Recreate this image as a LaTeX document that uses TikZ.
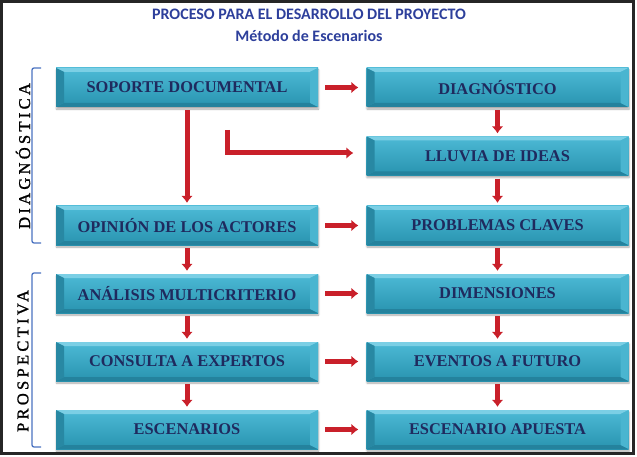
\documentclass[tikz,border=0pt]{standalone}
\usepackage{fontspec}
\setmainfont{Liberation Serif}
\newfontfamily\titulofont{Carlito}
\newfontfamily\fasefont[LetterSpace=20,FakeBold=1.2]{Liberation Serif}
\usetikzlibrary{arrows.meta,shadows.blur}
\definecolor{tituloazul}{HTML}{2D3F9B}
\definecolor{textoazul}{HTML}{1F2A5E}
\definecolor{caraclara}{HTML}{4DBAD6}
\definecolor{caraoscura}{HTML}{2893AF}
\definecolor{biselarriba}{HTML}{7BCFE5}
\definecolor{biselabajo}{HTML}{24829D}
\definecolor{biselizq}{HTML}{2888A3}
\definecolor{biselder}{HTML}{4AB5D0}
\definecolor{flecharoja}{HTML}{C9202A}
\definecolor{llave}{HTML}{4A72C0}

\begin{document}
\begin{tikzpicture}[x=1pt,y=-1pt,>={Latex[width=12pt,length=7pt]},
    caja/.style={minimum width=262pt,minimum height=39pt,inner sep=0pt,
      top color=caraclara,bottom color=caraoscura,text=textoazul,
      font=\bfseries\fontsize{16.4}{18}\selectfont,
      blur shadow={shadow xshift=0.5pt,shadow yshift=-2pt,shadow blur steps=4,shadow opacity=35},
      path picture={
        \coordinate (pnw) at (path picture bounding box.north west);
        \coordinate (pne) at (path picture bounding box.north east);
        \coordinate (psw) at (path picture bounding box.south west);
        \coordinate (pse) at (path picture bounding box.south east);
        \fill[biselarriba] (pnw) -- (pne) -- ([xshift=-8pt,yshift=-4pt]pne)
          -- ([xshift=8pt,yshift=-4pt]pnw) -- cycle;
        \fill[biselabajo] (psw) -- (pse) -- ([xshift=-8pt,yshift=4pt]pse)
          -- ([xshift=8pt,yshift=4pt]psw) -- cycle;
        \fill[biselizq] (pnw) -- ([xshift=8pt,yshift=-4pt]pnw)
          -- ([xshift=8pt,yshift=4pt]psw) -- (psw) -- cycle;
        \fill[biselder] (pne) -- ([xshift=-8pt,yshift=-4pt]pne)
          -- ([xshift=-8pt,yshift=4pt]pse) -- (pse) -- cycle;
      }},
    flecha/.style={->,line width=5pt,flecharoja,shorten <=3pt,shorten >=3pt},
    fase/.style={rotate=90,font=\fasefont\fontsize{16.5}{18}\selectfont},
    titulo/.style={font=\titulofont\bfseries\fontsize{16}{18}\selectfont,text=tituloazul}]
    \useasboundingbox (0,0) rectangle (637,457);
    \draw[line width=3pt,black!85] (1.5,1.5) rectangle (633.5,453);
    % titulo
    \node[titulo] (titulo1) at (309,14) {PROCESO PARA EL DESARROLLO DEL PROYECTO};
    \node[titulo] (titulo2) at (309,36) {Método de Escenarios};
    % fases
    \draw[llave,line width=1.3pt,rounded corners=2pt] (41,68) -- (32,68) -- (32,243) -- (41,243);
    \draw[llave,line width=1.3pt,rounded corners=2pt] (41,273) -- (32,273) -- (32,447) -- (41,447);
    \node[fase] (diagnostica) at (23,156) {DIAGNÓSTICA};
    \node[fase] (prospectiva) at (23,361) {PROSPECTIVA};
    % columna izquierda
    \node[caja] (soporte) at (187,87.5) {SOPORTE DOCUMENTAL};
    \node[caja] (opinion) at (187,225.5) {OPINIÓN DE LOS ACTORES};
    \node[caja] (analisis) at (187,293.5) {ANÁLISIS MULTICRITERIO};
    \node[caja] (consulta) at (187,361.5) {CONSULTA A EXPERTOS};
    \node[caja] (escenarios) at (187,429.5) {ESCENARIOS};
    % columna derecha
    \node[caja] (diagnostico) at (497.5,87.5) {DIAGNÓSTICO};
    \node[caja] (lluvia) at (497.5,156) {LLUVIA DE IDEAS};
    \node[caja] (problemas) at (497.5,225.5) {PROBLEMAS CLAVES};
    \node[caja] (dimensiones) at (497.5,293.5) {DIMENSIONES};
    \node[caja] (eventos) at (497.5,361.5) {EVENTOS A FUTURO};
    \node[caja] (apuesta) at (497.5,429.5) {ESCENARIO APUESTA};
    % flechas
    \draw[flecha,shorten <=7pt,shorten >=8pt] (soporte) -- (diagnostico);
    \draw[flecha,shorten <=7pt,shorten >=8pt] (opinion) -- (problemas);
    \draw[flecha,shorten <=7pt,shorten >=8pt] (analisis) -- (dimensiones);
    \draw[flecha,shorten <=7pt,shorten >=8pt] (consulta) -- (eventos);
    \draw[flecha,shorten <=7pt,shorten >=8pt] (escenarios) -- (apuesta);
    \coordinate (codo) at (227,130);
    \draw[flecha,shorten <=0pt,shorten >=13pt] (codo) |- ([yshift=3pt]lluvia.west);
    \draw[flecha] (soporte) -- (opinion);
    \draw[flecha] (opinion) -- (analisis);
    \draw[flecha] (analisis) -- (consulta);
    \draw[flecha] (consulta) -- (escenarios);
    \draw[flecha] (diagnostico) -- (lluvia);
    \draw[flecha] (lluvia) -- (problemas);
    \draw[flecha] (problemas) -- (dimensiones);
    \draw[flecha] (dimensiones) -- (eventos);
    \draw[flecha] (eventos) -- (apuesta);
\end{tikzpicture}
\end{document}
